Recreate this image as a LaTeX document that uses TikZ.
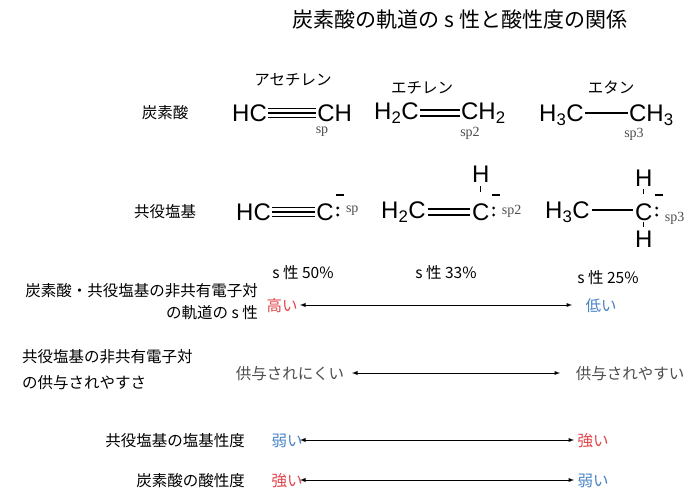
\documentclass[tikz,border=0pt]{standalone}
\usepackage{fontspec}
\setmainfont{Liberation Serif}
\newfontfamily\jp{Noto Sans CJK JP}
\newfontfamily\chem{Liberation Sans}
\usetikzlibrary{arrows}
\definecolor{lowred}{RGB}{225,70,75}
\definecolor{lowblue}{RGB}{70,130,195}
\newcommand{\sub}[1]{\textsubscript{#1}}
\tikzset{
  jlab/.style={font=\jp\fontsize{15.5}{18}\selectfont, inner sep=0pt},
  atom/.style={font=\chem\fontsize{24}{26}\selectfont, inner sep=0pt},
  hyb/.style={font=\fontsize{14}{15}\selectfont, text=black!70, inner sep=0pt},
  bond/.style={line width=1.8pt},
  rangearrow/.style={latex-latex, line width=0.9pt}
}
\begin{document}
\begin{tikzpicture}[x=1pt,y=-1pt]
    \useasboundingbox (0,0) rectangle (698,497);
    % title
    \node[jlab, font=\jp\fontsize{21}{24}\selectfont] (title) at (460,20) {炭素酸の軌道の s 性と酸性度の関係};
    \node[jlab] (nA) at (293,80) {アセチレン};
    \node[jlab] (nE) at (422,88) {エチレン};
    \node[jlab] (nT) at (611,88) {エタン};
    \node[jlab] (acid) at (165,113) {炭素酸};
    \node[jlab] (base) at (165,212) {共役塩基};
    % acids
    \node[atom, anchor=west] (a1) at (232,113) {HC};
    \node[atom, anchor=west] (a2) at ([xshift=50]a1.east) {CH};
    \draw[bond] (a1.east) ++(1,-4.5) -- ++(48,0) (a1.east) ++(1,0) -- ++(48,0) (a1.east) ++(1,4.5) -- ++(48,0);
    \node[hyb] (s1) at (322,132) {sp};
    \node[atom, anchor=west] (e1) at (374,113) {H\sub{2}C};
    \node[atom, anchor=west] (e2) at ([xshift=42]e1.east) {CH\sub{2}};
    \draw[bond] (e1.east) ++(1,-3) -- ++(40,0) (e1.east) ++(1,3) -- ++(40,0);
    \node[hyb] (s2) at (470,133) {sp2};
    \node[atom, anchor=west] (t1) at (539,115) {H\sub{3}C};
    \node[atom, anchor=west] (t2) at ([xshift=45]t1.east) {CH\sub{3}};
    \draw[line width=1.2pt] (t1.east) ++(1,-2) -- ++(43,0);
    \node[hyb] (s3) at (634,134) {sp3};
    % conjugate bases
    \node[atom, anchor=west] (b1) at (236,212) {HC};
    \node[atom, anchor=west] (b2) at ([xshift=45]b1.east) {C};
    \draw[bond] (b1.east) ++(1,-4.5) -- ++(43,0) (b1.east) ++(1,0) -- ++(43,0) (b1.east) ++(1,4.5) -- ++(43,0);
    \fill (b2.east) ++(4,-4) circle (1.6) ++(0,7) circle (1.6);
    \draw[line width=1.2pt] (b2.east) ++(2,-17) -- ++(8,0);
    \node[hyb, anchor=west] (c1) at ([xshift=12,yshift=1]b2.east) {sp};
    \node[atom, anchor=west] (f1) at (381,212) {H\sub{2}C};
    \node[atom, anchor=west] (f2) at ([xshift=46]f1.east) {C};
    \draw[bond] (f1.east) ++(2,-3) -- ++(42,0) (f1.east) ++(2,3) -- ++(42,0);
    \node[atom] (fh) at (f2.north |- 0,174) {H};
    \draw[line width=1.2pt] (fh.south) ++(0,4) -- ++(0,6);
    \fill (f2.east) ++(4,-4) circle (1.6) ++(0,7) circle (1.6);
    \draw[line width=1.2pt] (f2.east) ++(2,-17) -- ++(8,0);
    \node[hyb, anchor=west] (c2) at ([xshift=12,yshift=1]f2.east) {sp2};
    \node[atom, anchor=west] (g1) at (545,212) {H\sub{3}C};
    \node[atom, anchor=west] (g2) at ([xshift=45]g1.east) {C};
    \draw[line width=1.2pt] (g1.east) ++(2,-2) -- ++(41,0);
    \node[atom] (gh1) at (g2.north |- 0,178) {H};
    \node[atom] (gh2) at (g2.south |- 0,239) {H};
    \draw[line width=1.2pt] (gh1.south) ++(0,3) -- ++(0,5) (gh2.north) ++(0,-4) -- ++(0,-5);
    \fill (g2.east) ++(4,-4) circle (1.6) ++(0,7) circle (1.6);
    \draw[line width=1.2pt] (g2.east) ++(2,-17) -- ++(8,0);
    \node[hyb, anchor=west] (c3) at ([xshift=12,yshift=-6]g2.east) {sp3};
    % scales
    \node[jlab, align=right, anchor=east] (q1) at (258,302) {炭素酸・共役塩基の非共有電子対\\[4pt]の軌道の s 性};
    \node[jlab] (p1) at (303,273) {s 性 50\%};
    \node[jlab] (p2) at (446,273) {s 性 33\%};
    \node[jlab] (p3) at (608,278) {s 性 25\%};
    \node[jlab, text=lowred] (hi) at (282,306) {高い};
    \node[jlab, text=lowblue] (lo) at (601,306) {低い};
    \draw[rangearrow] (300,305) -- (572,305);
    \node[jlab, align=left, anchor=west] (q2) at (22,370) {共役塩基の非共有電子対\\[8pt]の供与されやすさ};
    \node[jlab, text=black!70] (d1) at (290,374) {供与されにくい};
    \node[jlab, text=black!70] (d2) at (630,374) {供与されやすい};
    \draw[rangearrow] (352,373) -- (560,373);
    \node[jlab, anchor=east] (q3) at (245,441) {共役塩基の塩基性度};
    \node[jlab, text=lowblue] (w1) at (287,441) {弱い};
    \node[jlab, text=lowred] (k1) at (593,441) {強い};
    \draw[rangearrow] (300,440) -- (574,440);
    \node[jlab, anchor=east] (q4) at (245,481) {炭素酸の酸性度};
    \node[jlab, text=lowred] (k2) at (287,481) {強い};
    \node[jlab, text=lowblue] (w2) at (593,481) {弱い};
    \draw[rangearrow] (300,480) -- (574,480);
\end{tikzpicture}
\end{document}
